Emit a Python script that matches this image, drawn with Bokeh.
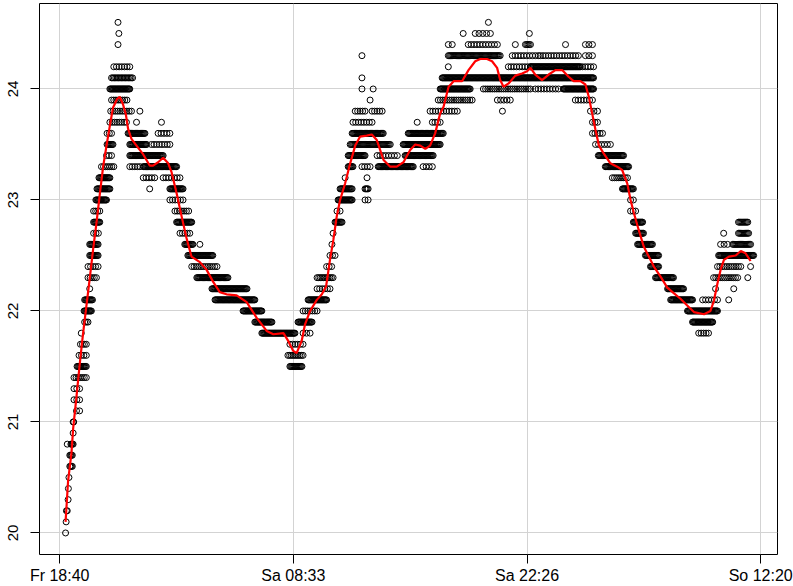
import numpy as np
from bokeh.plotting import figure
from bokeh.models import Range1d, FixedTicker
from bokeh.embed import file_html
from bokeh.resources import INLINE

# Runs of readings at one temperature level: minutes after Fr 18:40,
# and the spacing of the samples within the run (0 = single reading)
run_temp = [
    20.0, 20.1, 20.2, 20.3, 20.4, 20.5, 20.6, 20.7, 20.8, 20.8, 20.9, 21.0,
    21.1, 21.2, 21.3, 21.4, 21.5, 21.6, 21.7, 21.8, 21.9, 22.0, 22.1, 22.2,
    22.3, 22.4, 22.5, 22.6, 22.7, 22.8, 22.9, 23.0, 23.1, 23.2, 23.3, 23.4,
    23.5, 23.6, 23.7, 23.7, 23.7, 23.8, 23.8, 23.9, 24.0, 24.1, 24.2, 24.4,
    24.5, 24.6,
    # first descent
    23.6, 23.6, 23.5, 23.5, 23.4, 23.3, 23.3, 23.2, 23.2, 23.1, 23.1, 23.0,
    22.9, 22.8, 22.7, 22.6, 22.6, 22.5, 22.4, 22.3, 22.2, 22.1, 22.0, 21.9,
    21.8, 21.7, 21.6, 21.5,
    # second rise
    21.8, 21.9, 22.0, 22.1, 22.2, 22.3, 22.4, 22.5, 22.6, 22.7, 22.8, 22.9,
    23.0, 23.0, 23.1, 23.1, 23.2, 23.2, 23.3, 23.3, 23.3, 23.3, 23.4, 23.4,
    23.4, 23.5, 23.5, 23.6, 23.6, 23.7, 23.7, 23.7, 23.8, 23.8, 23.8, 23.9,
    23.9,
    # plateau
    24.0, 24.0, 24.0, 24.0, 24.0, 24.0, 24.1, 24.1, 24.2, 24.2, 24.2, 24.2,
    24.3, 24.3, 24.3, 24.3, 24.3, 24.4, 24.4, 24.4, 24.4, 24.4, 24.4, 24.4,
    24.5, 24.5, 24.5, 24.6, 23.9, 23.9, 23.8, 23.8,
    # second descent
    23.7, 23.6, 23.5, 23.4, 23.3, 23.2, 23.1, 23.0, 22.9, 22.8, 22.7, 22.6,
    22.5, 22.4, 22.3, 22.2, 22.1, 22.1, 22.1, 22.0, 21.9, 21.8,
    # final rise
    22.2, 22.2, 22.3, 22.3, 22.4, 22.4, 22.5, 22.6, 22.6, 22.7, 22.7, 22.8,
]
run_start = [
    21, 23, 24, 30, 31, 33, 36, 36, 27, 40, 48, 48,
    60, 51, 51, 51, 62, 69, 74, 77, 89, 87, 89, 107,
    101, 101, 107, 107, 121, 121, 121, 129, 133, 140, 149, 167,
    169, 169, 179, 274, 363, 182, 286, 185, 179, 185, 193, 208,
    211, 208,
    244, 351, 250, 327, 250, 250, 298, 298, 369, 321, 393, 393,
    411, 417, 429, 446, 500, 457, 471, 489, 543, 554, 654, 696,
    721, 821, 814, 821,
    868, 850, 868, 886, 918, 918, 952, 964, 971, 975, 982, 989,
    993, 1089, 1000, 1089, 1018, 1096, 1029, 1078, 1136, 1296, 1029, 1132,
    1232, 1036, 1225, 1043, 1243, 1046, 1275, 1329, 1054, 1114, 1321, 1107,
    1350,
    1078, 1118, 1357, 1511, 1696, 1796, 1078, 1364, 1386, 1600, 1679, 1864,
    1078, 1386, 1614, 1714, 1875, 1386, 1400, 1457, 1625, 1661, 1804, 1875,
    1439, 1482, 1675, 1529, 1561, 1839, 1579, 1893,
    1900, 1900, 1911, 1921, 1946, 1971, 2007, 2036, 2036, 2046, 2054, 2061,
    2089, 2107, 2125, 2168, 2179, 2293, 2386, 2239, 2257, 2279,
    2339, 2404, 2332, 2454, 2346, 2464, 2350, 2357, 2400, 2368, 2421, 2421,
]
run_end = [
    21, 23, 27, 30, 31, 33, 45, 45, 27, 48, 48, 50,
    71, 71, 71, 95, 95, 95, 95, 77, 101, 113, 117, 107,
    131, 137, 137, 137, 138, 143, 143, 167, 179, 179, 193, 185,
    190, 185, 238, 274, 363, 256, 286, 240, 250, 260, 250, 208,
    211, 208,
    304, 393, 310, 393, 369, 286, 417, 339, 429, 321, 440, 440,
    460, 471, 464, 475, 500, 546, 561, 600, 668, 696, 721, 757,
    839, 868, 868, 864,
    893, 900, 918, 952, 964, 975, 970, 982, 971, 975, 1007, 1000,
    1043, 1100, 1043, 1100, 1018, 1096, 1046, 1107, 1261, 1329, 1089, 1204,
    1332, 1179, 1357, 1154, 1368, 1114, 1275, 1357, 1089, 1150, 1418, 1107,
    1471,
    1078, 1118, 1464, 1679, 1779, 1904, 1078, 1904, 1386, 1679, 1857, 1904,
    1078, 1571, 1707, 1850, 1900, 1386, 1400, 1561, 1625, 1679, 1804, 1900,
    1439, 1536, 1675, 1529, 1607, 1900, 1579, 1918,
    1918, 1936, 1964, 2011, 2029, 2025, 2046, 2046, 2054, 2079, 2082, 2114,
    2136, 2136, 2189, 2225, 2257, 2346, 2386, 2346, 2329, 2314,
    2339, 2404, 2418, 2454, 2429, 2464, 2475, 2382, 2464, 2368, 2457, 2454,
]
run_step = [
    0, 0, 3, 0, 0, 0, 3, 3, 0, 3, 0, 3,
    10, 8, 8, 8, 3, 8, 8, 0, 6, 3, 3, 0,
    8, 8, 3, 3, 8, 3, 8, 3, 3, 3, 8, 8,
    3, 8, 8, 0, 0, 8, 0, 8, 3, 5, 10, 0,
    0, 0,
    3, 10, 3, 10, 3, 10, 3, 10, 10, 0, 3, 10,
    8, 3, 8, 3, 0, 3, 8, 3, 3, 3, 3, 3,
    3, 10, 6, 3,
    10, 3, 8, 3, 10, 6, 8, 8, 0, 0, 3, 8,
    3, 8, 3, 4, 0, 0, 3, 10, 3, 10, 3, 10,
    3, 4, 3, 3, 3, 10, 0, 10, 10, 10, 10, 0,
    8,
    0, 0, 3, 8, 10, 3, 0, 3, 0, 10, 3, 10,
    0, 4, 10, 10, 10, 0, 0, 10, 0, 4, 0, 10,
    0, 12, 0, 0, 12, 10, 0, 10,
    8, 8, 10, 3, 3, 8, 3, 8, 8, 3, 3, 3,
    3, 3, 3, 3, 3, 10, 0, 3, 3, 8,
    0, 0, 8, 0, 8, 0, 3, 10, 4, 0, 4, 4,
]

# smoothed curve (red): minutes after Fr 18:40, temperature
smooth_time = [
    21, 30, 42, 48, 60, 71, 83, 95, 107, 119, 131, 143, 155, 167, 179, 190,
    205, 214, 226, 236, 244, 256, 274, 298, 321, 333, 351, 369, 387, 399,
    417, 435, 452, 470, 500, 524, 548, 571, 595, 631, 667, 702, 738, 762,
    798, 815, 833, 845, 863, 875, 893, 917, 935, 950, 964, 976, 988, 1000,
    1018, 1036, 1054, 1071, 1095, 1113, 1131, 1155, 1179, 1202, 1226, 1250,
    1268, 1286, 1304, 1321, 1339, 1357, 1369, 1387, 1405, 1435, 1458, 1482,
    1500, 1524, 1542, 1560, 1571, 1583, 1601, 1625, 1649, 1667, 1679, 1696,
    1720, 1744, 1768, 1792, 1815, 1833, 1857, 1875, 1887, 1899, 1911, 1923,
    1940, 1964, 1988, 2006, 2024, 2036, 2048, 2065, 2083, 2101, 2119, 2143,
    2167, 2190, 2214, 2238, 2262, 2298, 2321, 2333, 2346, 2357, 2369, 2387,
    2411, 2429, 2446, 2464,
]
smooth_temp = [
    20.10, 20.47, 20.72, 20.94, 21.23, 21.51, 21.79, 22.04, 22.29, 22.55,
    22.79, 23.05, 23.30, 23.49, 23.67, 23.83, 23.91, 23.93, 23.86, 23.77,
    23.64, 23.55, 23.49, 23.41, 23.31, 23.31, 23.34, 23.38, 23.33, 23.25,
    23.06, 22.85, 22.66, 22.49, 22.44, 22.37, 22.26, 22.17, 22.15, 22.14,
    22.08, 21.94, 21.82, 21.79, 21.80, 21.73, 21.64, 21.62, 21.73, 21.88,
    22.00, 22.10, 22.15, 22.22, 22.46, 22.64, 22.85, 23.00, 23.15, 23.33,
    23.49, 23.57, 23.58, 23.59, 23.54, 23.36, 23.30, 23.30, 23.34, 23.45,
    23.50, 23.49, 23.46, 23.49, 23.60, 23.78, 23.84, 24.02, 24.07, 24.07,
    24.17, 24.25, 24.27, 24.27, 24.25, 24.19, 24.08, 24.02, 24.05, 24.12,
    24.14, 24.16, 24.19, 24.13, 24.08, 24.13, 24.17, 24.17, 24.11, 24.07,
    24.07, 24.04, 23.93, 23.78, 23.63, 23.49, 23.42, 23.33, 23.30, 23.27,
    23.15, 23.00, 22.88, 22.73, 22.58, 22.49, 22.40, 22.31, 22.21, 22.16,
    22.11, 22.05, 21.99, 21.97, 22.00, 22.09, 22.25, 22.37, 22.46, 22.49,
    22.50, 22.54, 22.52, 22.45,
]

tick_minutes = [0, 833.3333, 1666.6667, 2500]
tick_labels = ["Fr 18:40", "Sa 08:33", "Sa 22:26", "So 12:20"]
y_ticks = [20, 21, 22, 23, 24]

# expand the runs into individual readings (x in seconds)
px, py = [], []
for t, a, b, s in zip(run_temp, run_start, run_end, run_step):
    if s == 0 or b <= a:
        px.append(a * 60.0)
        py.append(t)
    else:
        n = int(round((b - a) / s)) + 1
        px.extend((np.linspace(a, b, n) * 60.0).tolist())
        py.extend([t] * n)

tick_sec = [int(round(m * 60)) for m in tick_minutes]

p = figure(width=793, height=586, output_backend="svg", toolbar_location=None,
           x_range=Range1d(-72.0 * 60, 2560.0 * 60),
           y_range=Range1d(19.806, 24.770),
           min_border_left=39, min_border_right=16, min_border_top=3,
           min_border_bottom=32)
p.background_fill_color = "white"
p.border_fill_color = "white"
p.outline_line_color = "black"
p.outline_line_width = 1
p.outline_line_alpha = 1

p.xaxis.ticker = FixedTicker(ticks=tick_sec)
p.xaxis.major_label_overrides = {k: v for k, v in zip(tick_sec, tick_labels)}
p.yaxis.ticker = FixedTicker(ticks=y_ticks)
p.yaxis.major_label_orientation = "vertical"

for ax in (p.xaxis, p.yaxis):
    ax.axis_line_color = None
    ax.major_tick_line_color = "black"
    ax.major_tick_out = 9
    ax.major_tick_in = 0
    ax.minor_tick_line_color = None
    ax.major_label_text_font = "Liberation Sans"
    ax.major_label_text_color = "black"
p.xaxis.major_label_text_font_size = "16px"
p.yaxis.major_label_text_font_size = "15px"
p.xaxis.major_label_standoff = 3
p.yaxis.major_label_standoff = 12

p.grid.grid_line_color = "#d3d3d3"
p.grid.grid_line_width = 1

p.scatter(px, py, marker="circle", size=6, fill_color=None,
          line_color="black", line_width=1)
p.line([m * 60.0 for m in smooth_time], smooth_temp, line_color="red",
       line_width=2.2)

open("out.html", "w").write(file_html(p, INLINE))
